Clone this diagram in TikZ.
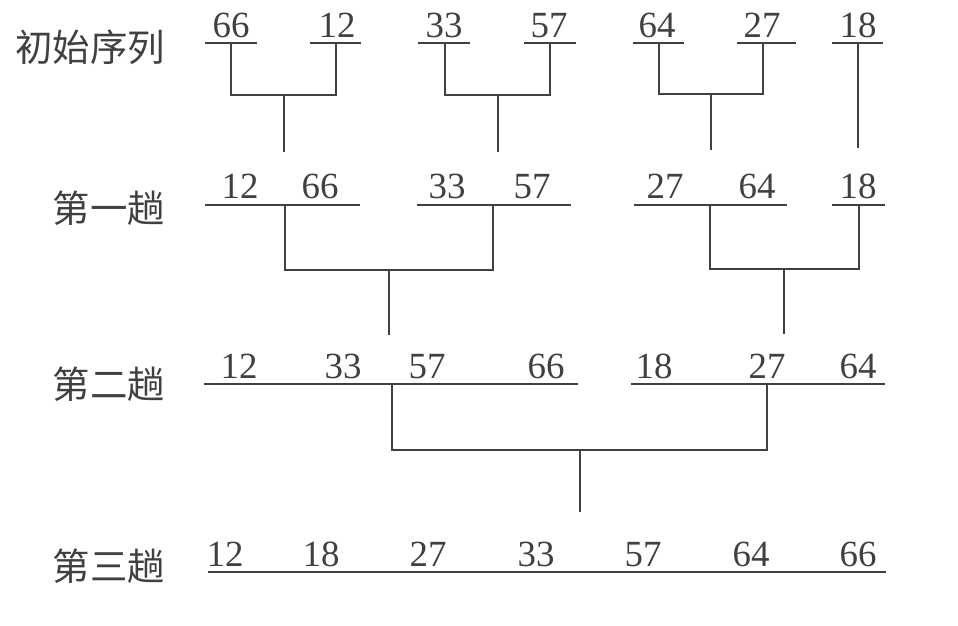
\documentclass[tikz,border=0pt]{standalone}
\usepackage{fontspec}
\setmainfont{Liberation Serif}
\newfontfamily\cjk{Noto Sans CJK SC}
\begin{document}
\begin{tikzpicture}[x=0.02cm, y=-0.02cm, line width=1.3pt, color=black!75,
    num/.style={anchor=base, inner sep=0pt, font=\fontsize{21}{25}\selectfont},
    pass/.style={anchor=east, inner sep=0pt, font=\cjk\fontsize{21.3}{25}\selectfont}]
    \useasboundingbox (0,0) rectangle (958,626);

    % labels of the passes
    \node[pass] (pass0) at (166,47) {初始序列};
    \node[pass] (pass1) at (166,208) {第一趟};
    \node[pass] (pass2) at (166,384) {第二趟};
    \node[pass] (pass3) at (166,566) {第三趟};

    % keys of each pass
    \foreach \x/\v [count=\i] in {231/66, 337/12, 444/33, 549/57, 657/64, 762/27, 858/18}
        \node[num] (n0\i) at (\x,37) {\v};
    \foreach \x/\v [count=\i] in {240/12, 320/66, 447/33, 532/57, 665/27, 757/64, 858/18}
        \node[num] (n1\i) at (\x,198) {\v};
    \foreach \x/\v [count=\i] in {239/12, 343/33, 427/57, 546/66, 654/18, 767/27, 858/64}
        \node[num] (n2\i) at (\x,378) {\v};
    \foreach \x/\v [count=\i] in {225/12, 321/18, 428/27, 536/33, 643/57, 751/64, 858/66}
        \node[num] (n3\i) at (\x,566) {\v};

    % runs (underlines)
    \foreach \l/\r/\t [count=\i] in {205/257/231, 310/361/336, 418/470/445, 524/576/550,
                                     633/684/659, 737/796/763, 832/883/858}
        {\draw (\l,43) -- (\r,43); \coordinate (s0\i) at (\t,43);}
    \foreach \l/\r/\t [count=\i] in {205/360/285, 417/571/493, 634/787/710, 832/885/859}
        {\draw (\l,205) -- (\r,205); \coordinate (s1\i) at (\t,205);}
    \foreach \l/\r/\t [count=\i] in {204/578/392, 631/885/767}
        {\draw (\l,384) -- (\r,384); \coordinate (s2\i) at (\t,384);}
    \draw (208,572) -- (886,572);

    % merges
    \coordinate (j01) at (284,95);  \coordinate (e01) at (284,152);
    \coordinate (j02) at (498,95);  \coordinate (e02) at (498,152);
    \coordinate (j03) at (711,94);  \coordinate (e03) at (711,150);
    \coordinate (e04) at (858,148);
    \coordinate (j11) at (389,270); \coordinate (e11) at (389,335);
    \coordinate (j12) at (784,269); \coordinate (e12) at (784,334);
    \coordinate (j21) at (580,450); \coordinate (e21) at (580,512);
    \foreach \a/\b/\k in {s01/s02/01, s03/s04/02, s05/s06/03, s11/s12/11, s13/s14/12, s21/s22/21}
        \draw (\a) |- (j\k) -| (\b) (j\k) -- (e\k);
    \draw (s07) -- (e04);
\end{tikzpicture}
\end{document}
